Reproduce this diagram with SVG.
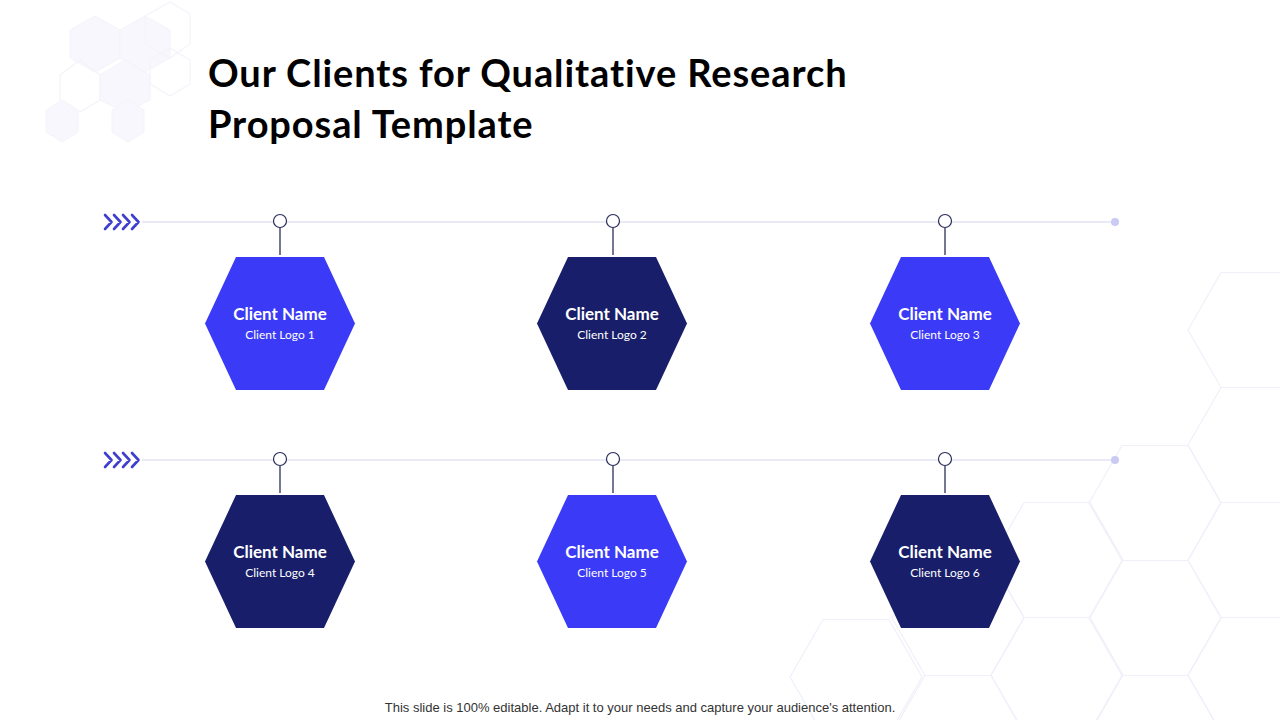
<svg xmlns="http://www.w3.org/2000/svg" width="1280" height="720" viewBox="0 0 1280 720">
<defs>
<style>
.bg{fill:none;stroke:#eff0f9;stroke-width:1.2}
.bgf{fill:#f5f5fd;stroke:#eff0f9;stroke-width:1}
.track{stroke:#d4d6ee;stroke-width:1.2}
.pin{fill:#fff;stroke:#2a2d5a;stroke-width:1.2}
.stem{stroke:#2a2d5a;stroke-width:1.3}
.end{fill:#c9cbf3}
.chev{fill:none;stroke:#3f3fcf;stroke-width:2.6;stroke-linecap:round;stroke-linejoin:round}
.hl{fill:#3a3af7}
.hd{fill:#181e6a}
.name{font-family:Lato,"Open Sans",sans-serif;font-weight:700;font-size:17px;fill:#fff;text-anchor:middle}
.logo{font-family:Lato,"Open Sans",sans-serif;font-size:12px;fill:#fff;text-anchor:middle}
.title{font-family:Lato,"Noto Sans",sans-serif;font-weight:700;font-size:38px;letter-spacing:0.9px;fill:#000}
.foot{font-family:"Liberation Sans",Arial,sans-serif;font-size:13px;fill:#333;text-anchor:middle}
</style>
<polygon id="hex" points="-75,0 -44,-66.5 44,-66.5 75,0 44,66.5 -44,66.5"/>
<polygon id="bh" points="-66,0 -33,-57.5 33,-57.5 66,0 33,57.5 -33,57.5"/>
</defs>
<rect width="1280" height="720" fill="#fff"/>
<g id="background">
<use href="#bh" class="bg" x="1254" y="330"/>
<use href="#bh" class="bg" x="1254" y="445"/>
<use href="#bh" class="bg" x="1254" y="560"/>
<use href="#bh" class="bg" x="1254" y="675"/>
<use href="#bh" class="bg" x="1155" y="503"/>
<use href="#bh" class="bg" x="1155" y="618"/>
<use href="#bh" class="bg" x="1057" y="560"/>
<use href="#bh" class="bg" x="1057" y="675"/>
<use href="#bh" class="bg" x="958" y="618"/>
<use href="#bh" class="bg" x="958" y="733"/>
<use href="#bh" class="bg" x="856" y="677"/>
<use href="#bh" class="bg" x="1155" y="733"/>
<g opacity="0.7">
<polygon class="bgf" points="70,30 95,16 120,30 120,58 95,72 70,58"/>
<polygon class="bgf" points="120,30 145,16 170,30 170,58 145,72 120,58"/>
<polygon class="bg" points="145,16 170,2 190,14 190,44 170,58 145,44"/>
<polygon class="bg" points="60,75 80,60 100,75 100,100 80,112 60,100"/>
<polygon class="bgf" points="100,75 125,60 150,75 150,100 125,112 100,100"/>
<polygon class="bg" points="150,60 170,48 190,60 190,84 170,96 150,84"/>
<polygon class="bgf" points="46,110 62,100 78,110 78,132 62,142 46,132"/>
<polygon class="bgf" points="112,110 128,100 144,110 144,132 128,142 112,132"/>
</g>
</g>
<g id="title">
<text class="title" x="208" y="87">Our Clients for Qualitative Research</text>
<text class="title" x="208" y="138">Proposal Template</text>
</g>
<g id="connectors">
<line class="track" x1="142" y1="222" x2="1115" y2="222"/>
<circle class="end" cx="1115" cy="222" r="4"/>
<line class="track" x1="142" y1="460" x2="1115" y2="460"/>
<circle class="end" cx="1115" cy="460" r="4"/>
<path class="chev" d="M105,215 l6.5,7 l-6.5,7 M114,215 l6.5,7 l-6.5,7 M123,215 l6.5,7 l-6.5,7 M132,215 l6.5,7 l-6.5,7"/>
<path class="chev" d="M105,453 l6.5,7 l-6.5,7 M114,453 l6.5,7 l-6.5,7 M123,453 l6.5,7 l-6.5,7 M132,453 l6.5,7 l-6.5,7"/>
<line class="stem" x1="280" y1="228" x2="280" y2="255"/>
<line class="stem" x1="613" y1="228" x2="613" y2="255"/>
<line class="stem" x1="945" y1="228" x2="945" y2="255"/>
<line class="stem" x1="280" y1="466" x2="280" y2="493"/>
<line class="stem" x1="613" y1="466" x2="613" y2="493"/>
<line class="stem" x1="945" y1="466" x2="945" y2="493"/>
<circle class="pin" cx="280" cy="221" r="6.5"/>
<circle class="pin" cx="613" cy="221" r="6.5"/>
<circle class="pin" cx="945" cy="221" r="6.5"/>
<circle class="pin" cx="280" cy="459" r="6.5"/>
<circle class="pin" cx="613" cy="459" r="6.5"/>
<circle class="pin" cx="945" cy="459" r="6.5"/>
</g>
<g id="client1"><use href="#hex" class="hl" x="280" y="323.5"/><text class="name" x="280" y="320">Client Name</text><text class="logo" x="280" y="339">Client Logo 1</text></g>
<g id="client2"><use href="#hex" class="hd" x="612" y="323.5"/><text class="name" x="612" y="320">Client Name</text><text class="logo" x="612" y="339">Client Logo 2</text></g>
<g id="client3"><use href="#hex" class="hl" x="945" y="323.5"/><text class="name" x="945" y="320">Client Name</text><text class="logo" x="945" y="339">Client Logo 3</text></g>
<g id="client4"><use href="#hex" class="hd" x="280" y="561.5"/><text class="name" x="280" y="558">Client Name</text><text class="logo" x="280" y="577">Client Logo 4</text></g>
<g id="client5"><use href="#hex" class="hl" x="612" y="561.5"/><text class="name" x="612" y="558">Client Name</text><text class="logo" x="612" y="577">Client Logo 5</text></g>
<g id="client6"><use href="#hex" class="hd" x="945" y="561.5"/><text class="name" x="945" y="558">Client Name</text><text class="logo" x="945" y="577">Client Logo 6</text></g>
<text class="foot" x="640" y="712">This slide is 100% editable. Adapt it to your needs and capture your audience's attention.</text>
</svg>
